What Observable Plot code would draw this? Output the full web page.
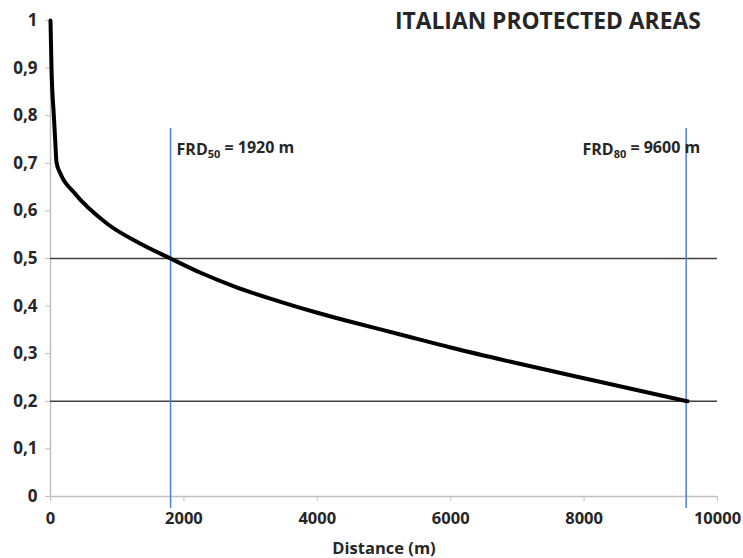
<!DOCTYPE html>
<html>
<head>
<meta charset="utf-8">
<script src="https://cdn.jsdelivr.net/npm/d3@7"></script>
<script src="https://cdn.jsdelivr.net/npm/@observablehq/plot@0.6"></script>
<style>
  html, body { margin: 0; padding: 0; background: #fff; }
  #wrap { position: relative; width: 743px; height: 558px; }
  #title { position: absolute; top: 10px; left: 395px; line-height: 1; font-family: "Open Sans", Lato, sans-serif; font-weight: 700; font-size: 22.8px; color: #262626; white-space: nowrap; }
</style>
</head>
<body>
<div id="wrap">
  <div id="title">ITALIAN PROTECTED AREAS</div>
</div>
<script>
// Curve: fraction vs distance (m)
const distance = [0, 15, 50, 70, 90, 150, 350, 850, 1350, 1800, 2250, 2800, 3450, 4000, 4500, 5200, 6000, 6900, 8200, 9550];
const fraction = [1, 0.9, 0.8, 0.75, 0.702, 0.678, 0.639, 0.573, 0.531, 0.5, 0.470, 0.439, 0.409, 0.386, 0.367, 0.342, 0.313, 0.283, 0.242, 0.2];

// Reference levels (horizontal lines)
const levels = [0.5, 0.2];
// FRD markers (vertical lines) as drawn, and their labels
const frdX = [1800, 9530];
const frdSub = ["50", "80"];
const frdText = ["= 1920 m", "= 9600 m"];
const frdRuleLow = -0.025, frdRuleHigh = 0.773, frdLabelY = 0.729;

const xTicks = [0, 2000, 4000, 6000, 8000, 10000];
const yTicks = [0, 0.1, 0.2, 0.3, 0.4, 0.5, 0.6, 0.7, 0.8, 0.9, 1];
const xLabel = "Distance (m)";

const curve = distance.map((d, i) => ({x: d, y: fraction[i]}));
const frd = frdX.map((x, i) => ({x, sub: frdSub[i], rest: frdText[i], label: "FRD" + frdSub[i] + " " + frdText[i]}));

const fmtY = d => String(+d.toFixed(1)).replace(".", ",");

const chart = Plot.plot({
  width: 743,
  height: 558,
  marginLeft: 50,
  marginRight: 26,
  marginTop: 20,
  marginBottom: 62,
  style: {fontFamily: "'Open Sans', Lato, sans-serif", fontWeight: 700, fontSize: "15px", color: "#262626", background: "#fff"},
  x: {domain: [0, 10000]},
  y: {domain: [0, 1]},
  marks: [
    Plot.ruleY([0], {stroke: "#c0c0c0", strokeWidth: 1.5}),
    Plot.ruleX([0], {stroke: "#c0c0c0", strokeWidth: 1.5}),
    Plot.axisX({ticks: xTicks, tickSize: 5, tickPadding: 11, stroke: "#c0c0c0", fill: "#262626", tickFormat: d => String(d), label: null, fontSize: 16.5}),
    Plot.axisY({ticks: yTicks, tickSize: 5, tickPadding: 8, stroke: "#c0c0c0", fill: "#262626", tickFormat: fmtY, label: null, fontSize: 17}),
    Plot.text([xLabel], {frameAnchor: "bottom", dy: 57, fontSize: 16.5, fill: "#262626", text: d => d}),
    Plot.ruleY(levels, {x1: 0, x2: 10000, stroke: "#404040", strokeWidth: 1.5}),
    Plot.ruleX(frd, {x: "x", y1: frdRuleLow, y2: frdRuleHigh, stroke: "#4a7fd4", strokeWidth: 1.5}),
    Plot.line(curve, {x: "x", y: "y", stroke: "#000", strokeWidth: 4, curve: "monotone-x"}),
    Plot.text(frd.slice(0, 1), {x: "x", y: frdLabelY, text: "label", textAnchor: "start", dx: 6, fontSize: 16, fill: "#262626", className: "frd"}),
    Plot.text(frd.slice(1), {x: "x", y: frdLabelY, text: "label", textAnchor: "end", dx: 14, fontSize: 16, fill: "#262626", className: "frd"})
  ]
});

document.getElementById("wrap").insertBefore(chart, document.getElementById("title"));

// Typeset subscripts in FRD labels
d3.select(chart).selectAll("g.frd text").each(function(_, i) {
  const t = d3.select(this);
  const d = frd[i];
  t.text(null);
  t.append("tspan").text("FRD");
  t.append("tspan").attr("font-size", "11px").attr("dy", "0.3em").text(d.sub);
  t.append("tspan").attr("dy", "-0.3em").text(" " + d.rest);
});
</script>
</body>
</html>
